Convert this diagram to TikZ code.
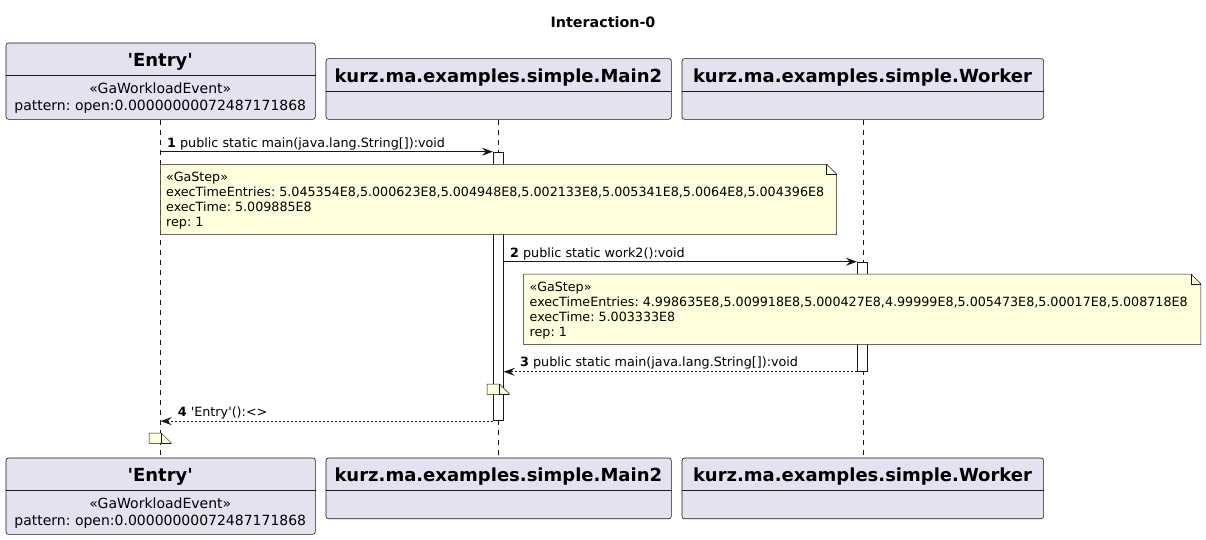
\documentclass[tikz,border=0pt]{standalone}
\usepackage{fontspec}
\setmainfont{DejaVu Sans}[Ligatures=TeXOff]
\usetikzlibrary{arrows.meta}
\definecolor{partfill}{HTML}{E2E2F0}
\definecolor{notefill}{HTML}{FEFFDD}
\definecolor{ink}{HTML}{181818}
\frenchspacing
\tikzset{
 partbox/.style={draw=ink, line width=0.6pt, fill=partfill, rounded corners=2.5pt, inner sep=0pt, anchor=north west},
 parttitle/.style={font=\fontsize{18}{21}\bfseries\selectfont, anchor=base, inner sep=0pt, text=black},
 partsub/.style={font=\fontsize{14}{16}\selectfont, anchor=base, inner sep=0pt, text=black},
 divider/.style={draw=ink, line width=0.8pt},
 lifeline/.style={draw=ink, line width=0.5pt, dash pattern=on 5pt off 5pt},
 actbox/.style={draw=ink, line width=0.8pt, fill=white, inner sep=0pt, minimum width=10pt, anchor=north},
 msg/.style={draw=ink, line width=1pt, -{Stealth[length=11pt,width=8pt,inset=4pt]}},
 ret/.style={msg, dash pattern=on 2pt off 2pt},
 msglabel/.style={font=\fontsize{12.75}{15}\selectfont, anchor=base west, inner sep=0pt, text=black},
 notebox/.style={inner sep=0pt, anchor=north west},
 notedraw/.style={draw=ink, line width=0.5pt, fill=notefill},
 notetext/.style={font=\fontsize{12.7}{15}\selectfont, anchor=base west, inner sep=0pt, text=black},
 titletext/.style={font=\fontsize{14.3}{16}\bfseries\selectfont, anchor=base, inner sep=0pt},
}
\begin{document}
\begin{tikzpicture}[x=1pt,y=-1pt]
\useasboundingbox[fill=white] (0,0) rectangle (1206,539);

\node[titletext] (title) at (603,27) {Interaction-0};

% participant boxes (top)
\node[partbox, minimum width=309.3pt, minimum height=76.3pt] (entryTop) at (5.7,42.7) {};
\node[partbox, minimum width=345.3pt, minimum height=60.7pt] (mainTop) at (325.7,58.3) {};
\node[partbox, minimum width=361.6pt, minimum height=60.7pt] (workTop) at (681.7,58.3) {};
% participant boxes (bottom)
\node[partbox, minimum width=309.3pt, minimum height=76.3pt] (entryBot) at (5.7,457.7) {};
\node[partbox, minimum width=345.3pt, minimum height=60.7pt] (mainBot) at (325.7,457.7) {};
\node[partbox, minimum width=361.6pt, minimum height=60.7pt] (workBot) at (681.7,457.7) {};

% dividers
\draw[divider] (entryTop.west |- 0,75.3) -- (entryTop.east |- 0,75.3);
\draw[divider] (mainTop.west |- 0,91.2) -- (mainTop.east |- 0,91.2);
\draw[divider] (workTop.west |- 0,91.2) -- (workTop.east |- 0,91.2);
\draw[divider] (entryBot.west |- 0,490.3) -- (entryBot.east |- 0,490.3);
\draw[divider] (mainBot.west |- 0,490.3) -- (mainBot.east |- 0,490.3);
\draw[divider] (workBot.west |- 0,490.3) -- (workBot.east |- 0,490.3);

% participant texts
\node[parttitle] (entryTopT) at (160.3,66.7) {'Entry'};
\node[partsub] (entryTopS) at (160.3,93.3) {«GaWorkloadEvent»};
\node[partsub] (entryTopP) at (160.3,110) {pattern: open:0.00000000072487171868};
\node[parttitle] (mainTopT) at (498.3,82.3) {kurz.ma.examples.simple.Main2};
\node[parttitle] (workTopT) at (862.5,82.3) {kurz.ma.examples.simple.Worker};
\node[parttitle] (entryBotT) at (160.3,481) {'Entry'};
\node[partsub] (entryBotS) at (160.3,508.3) {«GaWorkloadEvent»};
\node[partsub] (entryBotP) at (160.3,525) {pattern: open:0.00000000072487171868};
\node[parttitle] (mainBotT) at (498.3,481) {kurz.ma.examples.simple.Main2};
\node[parttitle] (workBotT) at (862.5,481) {kurz.ma.examples.simple.Worker};

% lifelines
\draw[lifeline] (entryTop.south) -- (entryBot.north);
\draw[lifeline] (mainTop.south) -- (mainBot.north);
\draw[lifeline] (workTop.south) -- (workBot.north);

% activations
\node[actbox, minimum height=268.6pt] (act1) at (498.3,151.7) {};
\node[actbox, minimum height=109.3pt] (act2) at (862.3,261.7) {};

% messages
\coordinate (m1s) at (entryTop.south |- act1.north);
\draw[msg] (m1s) -- (act1.north west);
\node[msglabel] (l1) at (167,147) {\textbf{1} public static main(java.lang.String[]):void};

\coordinate (m2s) at (act1.east |- act2.north);
\draw[msg] (m2s) -- (act2.north west);
\node[msglabel] (l2) at (510,257) {\textbf{2} public static work2():void};

\coordinate (m3e) at (act1.east |- act2.south);
\draw[ret] (act2.south west) -- (m3e);
\node[msglabel] (l3) at (520,366.3) {\textbf{3} public static main(java.lang.String[]):void};

\coordinate (m4e) at (entryTop.south |- act1.south);
\draw[ret] (act1.south west) -- (m4e);
\node[msglabel] (l4) at (177.7,416) {\textbf{4} 'Entry'():<>};

% note 1
\node[notebox, minimum width=676pt, minimum height=70pt] (n1) at (160.3,164.3) {};
\draw[notedraw] (n1.north west) -- ([xshift=-10pt]n1.north east) -- ([yshift=-10pt]n1.north east) -- (n1.south east) -- (n1.south west) -- cycle;
\draw[notedraw, fill=none] ([xshift=-10pt]n1.north east) |- ([yshift=-10pt]n1.north east);
\node[notetext] (n1a) at (166,181.7) {«GaStep»};
\node[notetext] (n1b) at (166,196.7) {execTimeEntries: 5.045354E8,5.000623E8,5.004948E8,5.002133E8,5.005341E8,5.0064E8,5.004396E8};
\node[notetext] (n1c) at (166,211.7) {execTime: 5.009885E8};
\node[notetext] (n1d) at (166,226.7) {rep: 1};

% note 2
\node[notebox, minimum width=677pt, minimum height=70.3pt] (n2) at (523.5,274) {};
\draw[notedraw] (n2.north west) -- ([xshift=-10pt]n2.north east) -- ([yshift=-10pt]n2.north east) -- (n2.south east) -- (n2.south west) -- cycle;
\draw[notedraw, fill=none] ([xshift=-10pt]n2.north east) |- ([yshift=-10pt]n2.north east);
\node[notetext] (n2a) at (529.5,291.5) {«GaStep»};
\node[notetext] (n2b) at (529.5,306.5) {execTimeEntries: 4.998635E8,5.009918E8,5.000427E8,4.99999E8,5.005473E8,5.00017E8,5.008718E8};
\node[notetext] (n2c) at (529.5,321.5) {execTime: 5.003333E8};
\node[notetext] (n2d) at (529.5,336.5) {rep: 1};

% small empty notes
\node[notebox, minimum width=22pt, minimum height=10pt] (n3) at (487,384) {};
\draw[notedraw] (n3.north west) -- ([xshift=-10pt]n3.north east) -- ([yshift=-10pt]n3.north east) -- (n3.south east) -- (n3.south west) -- cycle;
\draw[notedraw, fill=none] ([xshift=-10pt]n3.north east) |- ([yshift=-10pt]n3.north east);

\node[notebox, minimum width=22pt, minimum height=10pt] (n4) at (149,433) {};
\draw[notedraw] (n4.north west) -- ([xshift=-10pt]n4.north east) -- ([yshift=-10pt]n4.north east) -- (n4.south east) -- (n4.south west) -- cycle;
\draw[notedraw, fill=none] ([xshift=-10pt]n4.north east) |- ([yshift=-10pt]n4.north east);
\end{tikzpicture}
\end{document}
